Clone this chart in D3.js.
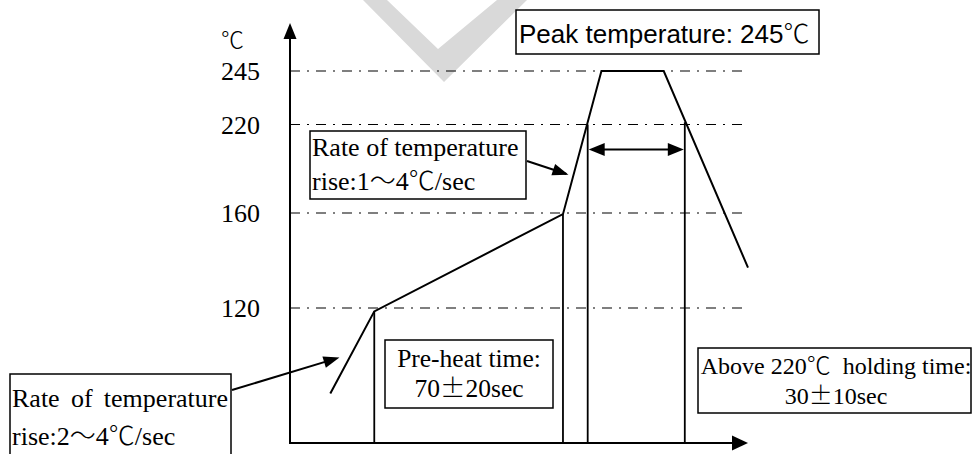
<!DOCTYPE html>
<html>
<head>
<meta charset="utf-8">
<script src="https://cdn.jsdelivr.net/npm/d3@7"></script>
<style>
  body { margin: 0; background: #fff; }
  svg { display: block; }
</style>
</head>
<body>
<svg id="chart" width="972" height="454"></svg>
<script>
// temperature levels marked on the y axis (℃)
var tempTicks = [120, 160, 220, 245];

// reflow profile: time (schematic seconds) and temperature (℃)
var profileTime = [22, 46, 149, 170, 204, 250];
var profileTemp = [82, 118.5, 159.5, 245, 245, 137];

// vertical marker lines: time, and temperature where each one starts
var markerTime = [46, 149, 162.5, 215.5];
var markerTemp = [118.5, 159.5, 220, 221];

// holding time arrow above 220℃
var holdTime = [162.5, 215.5];
var holdTemp = 203;

// annotation texts
var unitLabel = "℃";
var peakLabel = "Peak temperature: 245℃";
var rise1Lines = ["Rate of temperature", "rise:1～4℃/sec"];
var rise2Lines = ["Rate of temperature", "rise:2～4℃/sec"];
var preheatLines = ["Pre-heat time:", "70±20sec"];
var holdLines = ["Above 220℃  holding time:", "30±10sec"];

// where the two rate arrows point on the profile [time, temp]
var rise1Target = [152, 186];
var rise2Target = [27, 98];

var serif = "'Liberation Serif', 'Times New Roman', serif";
var sans = "'Liberation Sans', Arial, sans-serif";
var cjk = "'Noto Sans CJK SC', sans-serif";

var svg = d3.select("#chart");

// the chart is schematic, so the temperature axis is piecewise linear
var xScale = d3.scaleLinear().domain([0, 250]).range([290, 748]);
var yScale = d3.scaleLinear()
    .domain([60, 120, 160, 220, 245])
    .range([443, 308, 213, 124.5, 71]);


// -------*****--------^^^^-------*****---------------*****--------
//               helpers
// -------*****--------^^^^-------*****---------------*****--------
function addText(g, lines, x, y, lineGap, size, family, anchor) {
  var t = g.append("text")
      .attr("font-size", size)
      .attr("font-family", family)
      .attr("text-anchor", anchor || "start")
      .style("white-space", "pre")
      .attr("fill", "#000");
  lines.forEach(function(str, k) {
    var row = t.append("tspan").attr("x", x).attr("y", y + k * lineGap);
    // symbols come from the CJK font, like in the original document
    str.split(/([±℃～])/).forEach(function(part, i) {
      if (!part) return;
      var ts = row.append("tspan").text(part);
      if (i % 2 == 1) ts.attr("font-family", cjk).attr("font-weight", 300);
    });
  });
  return t;
}

function addBox(g, x, y, w, h) {
  g.append("rect")
      .attr("x", x).attr("y", y)
      .attr("width", w).attr("height", h)
      .attr("fill", "#fff")
      .attr("stroke", "#000")
      .attr("stroke-width", 1.5);
}

function arrowHead(g, x1, y1, x2, y2, len, half) {
  var a = Math.atan2(y2 - y1, x2 - x1);
  var c = Math.cos(a), s = Math.sin(a);
  var bx = x2 - len * c, by = y2 - len * s;
  g.append("path")
      .attr("d", "M" + x2 + "," + y2 +
                 "L" + (bx - half * s) + "," + (by + half * c) +
                 "L" + (bx + half * s) + "," + (by - half * c) + "Z")
      .attr("fill", "#000");
}

function addArrow(g, x1, y1, x2, y2) {
  g.append("line")
      .attr("x1", x1).attr("y1", y1)
      .attr("x2", x2 - (x2 - x1) * 0.05).attr("y2", y2 - (y2 - y1) * 0.05)
      .attr("stroke", "#000")
      .attr("stroke-width", 2);
  arrowHead(g, x1, y1, x2, y2, 16, 6);
}


// watermark chevron in the background
svg.append("path")
    .attr("d", "M363,0L387,0L438,49L497,0L527,0L444,82Z")
    .attr("fill", "#d9d9d9");


// -------*****--------^^^^-------*****---------------*****--------
//               grid lines and axes
// -------*****--------^^^^-------*****---------------*****--------
var grid_g = svg.append("g");
grid_g.selectAll("line")
    .data(tempTicks)
    .enter().append("line")
    .attr("x1", xScale(0))
    .attr("x2", xScale.range()[1])
    .attr("y1", function(d) { return yScale(d); })
    .attr("y2", function(d) { return yScale(d); })
    .attr("stroke", "#000")
    .attr("stroke-width", 1.2)
    .attr("stroke-dasharray", "10,7,2,7");

var y_axis_g = svg.append("g")
    .attr("transform", "translate(" + xScale(0) + ",0)")
    .call(d3.axisLeft(yScale).tickValues(tempTicks).tickSize(0).tickPadding(30));
y_axis_g.select(".domain").remove();
y_axis_g.selectAll("text")
    .attr("font-family", serif)
    .attr("font-size", 26)
    .attr("dy", "0.34em")
    .attr("fill", "#000");

var axisTop = 23, axisY = yScale(60), axisRight = xScale.range()[1];
svg.append("line")
    .attr("x1", xScale(0)).attr("x2", xScale(0))
    .attr("y1", axisY + 1).attr("y2", axisTop + 10)
    .attr("stroke", "#000").attr("stroke-width", 2);
arrowHead(svg, xScale(0), axisY, xScale(0), axisTop, 16, 6.5);

svg.append("line")
    .attr("x1", xScale(0) - 1).attr("x2", axisRight - 10)
    .attr("y1", axisY).attr("y2", axisY)
    .attr("stroke", "#000").attr("stroke-width", 2);
arrowHead(svg, xScale(0), axisY, axisRight, axisY, 16, 7.5);

addText(svg, [unitLabel], 221, 48, 0, 23, cjk);


// -------*****--------^^^^-------*****---------------*****--------
//               marker lines, profile and hold arrow
// -------*****--------^^^^-------*****---------------*****--------
svg.append("g").selectAll("line")
    .data(markerTime)
    .enter().append("line")
    .attr("x1", function(d) { return xScale(d); })
    .attr("x2", function(d) { return xScale(d); })
    .attr("y1", function(d, i) { return yScale(markerTemp[i]); })
    .attr("y2", axisY)
    .attr("stroke", "#000")
    .attr("stroke-width", 1.8);

var line = d3.line()
    .x(function(d) { return xScale(d[0]); })
    .y(function(d) { return yScale(d[1]); });

svg.append("path")
    .datum(d3.zip(profileTime, profileTemp))
    .attr("d", line)
    .attr("fill", "none")
    .attr("stroke", "#000")
    .attr("stroke-width", 2);

var hx1 = xScale(holdTime[0]) + 1, hx2 = xScale(holdTime[1]) - 1, hy = yScale(holdTemp);
svg.append("line")
    .attr("x1", hx1 + 10).attr("x2", hx2 - 10)
    .attr("y1", hy).attr("y2", hy)
    .attr("stroke", "#000").attr("stroke-width", 2);
arrowHead(svg, hx2, hy, hx1, hy, 16, 6.5);
arrowHead(svg, hx1, hy, hx2, hy, 16, 6.5);


// -------*****--------^^^^-------*****---------------*****--------
//               annotation boxes
// -------*****--------^^^^-------*****---------------*****--------
var notes_g = svg.append("g");

// peak temperature
addBox(notes_g, 516, 10, 303, 44);
addText(notes_g, [peakLabel], 519, 42.5, 0, 26, sans);

// rate 1~4
addBox(notes_g, 310, 131, 216, 68);
addText(notes_g, rise1Lines, 312, 155.5, 34, 26, serif);
addArrow(notes_g, 527, 161, xScale(rise1Target[0]), yScale(rise1Target[1]));

// rate 2~4 (first line is justified to the box width)
addBox(notes_g, 10, 374, 221, 100);
var r2 = addText(notes_g, rise2Lines, 12, 407, 38, 26, serif);
var r2first = r2.select("tspan");
var r2len = r2first.node().getComputedTextLength();
r2first.attr("word-spacing", (216 - r2len) / 2);
addArrow(notes_g, 232, 390, xScale(rise2Target[0]), yScale(rise2Target[1]));

// pre-heat
addBox(notes_g, 385, 340, 168, 68);
addText(notes_g, preheatLines, 469, 367, 30, 25.5, serif, "middle");

// holding time
addBox(notes_g, 698, 348, 273, 65);
addText(notes_g, holdLines, 836, 374, 30, 24, serif, "middle");
</script>
</body>
</html>
